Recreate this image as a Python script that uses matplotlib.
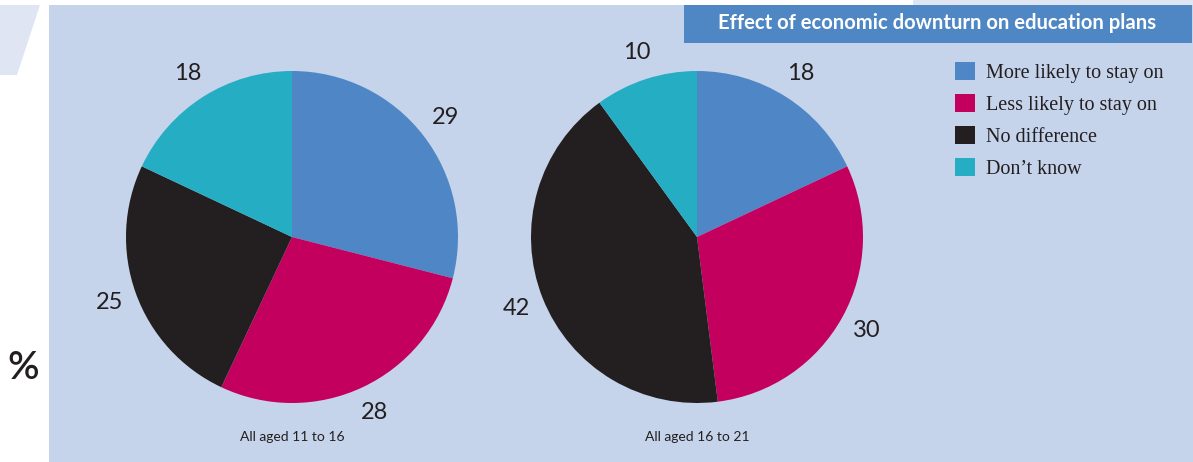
import matplotlib.pyplot as plt
from matplotlib.patches import Rectangle, Polygon

categories = ['More likely to stay on', 'Less likely to stay on', 'No difference', "Don\u2019t know"]
aged_11_16 = [29, 28, 25, 18]
aged_16_21 = [18, 30, 42, 10]
group_labels = ['All aged 11 to 16', 'All aged 16 to 21']
title = 'Effect of economic downturn on education plans'

colors = ['#4f87c6', '#c4005f', '#231f20', '#25adc4']
W, H = 1193, 462
SANS = 'Lato'

fig = plt.figure(figsize=(W / 100, H / 100), dpi=100)
bg = fig.add_axes([0, 0, 1, 1])
bg.set_xlim(0, W)
bg.set_ylim(H, 0)
bg.axis('off')

# background shapes
bg.add_patch(Polygon([(0, 5), (40, 5), (17, 75), (0, 75)], closed=True, color='#dfe5f3', lw=0))
bg.add_patch(Rectangle((913, 0), W - 913, 5, color='#dfe5f3', lw=0))
bg.add_patch(Rectangle((49, 5), W - 49, H - 5, color='#c5d3eb', lw=0))
bg.add_patch(Rectangle((684, 5), 508, 38, color='#4f87c5', lw=0))
bg.text(937, 23, title, color='white', fontsize=14.6, fontweight='bold',
        family=SANS, ha='center', va='center')
bg.text(23, 368, '%', fontsize=28, family=SANS, fontweight='semibold',
        color='#231f20', ha='center', va='center')


def draw_pie(cx, cy, r, values, label):
    ax = fig.add_axes([(cx - r) / W, (H - cy - r) / H, 2 * r / W, 2 * r / H])
    wedges, texts = ax.pie(values, colors=colors, startangle=90, counterclock=False,
                           labels=[str(v) for v in values], labeldistance=1.17,
                           wedgeprops={'linewidth': 0},
                           textprops={'fontsize': 17, 'family': SANS, 'color': '#231f20'})
    for t in texts:
        t.set_ha('center')
        t.set_va('center')
    ax.set_xlim(-1, 1)
    ax.set_ylim(-1, 1)
    ax.axis('off')
    bg.text(cx, cy + 200, label, fontsize=10, family=SANS, color='#231f20',
            ha='center', va='center')
    return wedges


wedges = draw_pie(292, 237, 166, aged_11_16, group_labels[0])
draw_pie(697, 237, 166, aged_16_21, group_labels[1])

fig.legend(wedges, categories, loc='upper left', bbox_to_anchor=(955 / W, 1 - 62 / H),
           frameon=False, borderpad=0, borderaxespad=0,
           handlelength=1.0, handleheight=1.0, handletextpad=0.55, labelspacing=0.55,
           prop={'family': 'Liberation Serif', 'size': 14.5}, labelcolor='#231f20')

fig.savefig('out.png', dpi=100)
